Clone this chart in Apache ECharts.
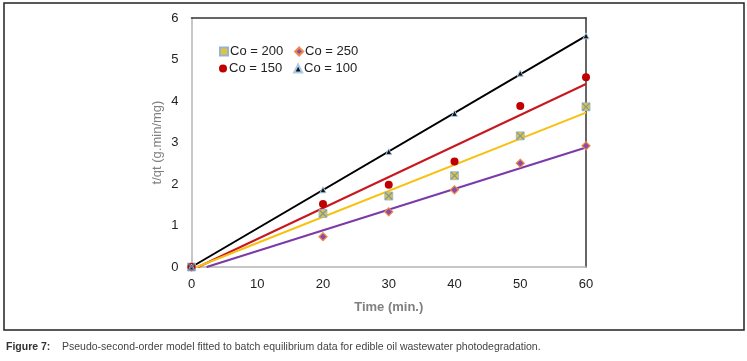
<!DOCTYPE html>
<html>
<head>
<meta charset="utf-8">
<script src="https://cdn.jsdelivr.net/npm/echarts@6/dist/echarts.min.js"></script>
<style>
  html, body { margin: 0; padding: 0; background: #fff; }
  #chart { width: 747px; height: 361px; }
</style>
</head>
<body>
<div id="chart"></div>
<script>
// time (min.) and t/qt values
const times = [0, 20, 30, 40, 50, 60];
const co100 = [0, 1.86, 2.78, 3.70, 4.67, 5.57];
const co150 = [0, 1.52, 1.98, 2.54, 3.88, 4.57];
const co200 = [0, 1.29, 1.71, 2.20, 3.16, 3.86];
const co250 = [0, 0.73, 1.33, 1.86, 2.50, 2.92];

// fitted trend lines: [start, end] as [time, t/qt]
const fit100 = [[0, 0], [60, 5.57]];
const fit150 = [[1.0, 0], [60, 4.41]];
const fit200 = [[0.8, 0], [60, 3.72]];
const fit250 = [[2.3, 0], [60, 2.88]];

const xTicks = [0, 10, 20, 30, 40, 50, 60];
const yTicks = [0, 1, 2, 3, 4, 5, 6];

const pairs = (ys) => times.map((t, i) => [t, ys[i]]);

const myChart = echarts.init(document.getElementById('chart'));
const font = 'Liberation Sans, Arial, sans-serif';
const labelStyle = { fontFamily: font, fontSize: 13, color: '#222' };

function trend(data, color) {
  return {
    type: 'line',
    data: data,
    showSymbol: false,
    symbol: 'none',
    silent: true,
    z: 2,
    lineStyle: { color: color, width: 2 }
  };
}

myChart.setOption({
  animation: false,
  textStyle: { fontFamily: font },
  grid: { left: 191.5, right: 161, top: 18, bottom: 94 },
  legend: [
    {
      data: ['Co = 200', 'Co = 250'],
      left: 214, top: 40,
      itemWidth: 8, itemHeight: 8, itemGap: 11,
      textStyle: { fontFamily: font, fontSize: 13, color: '#222', padding: [0, 0, 0, -3] }
    },
    {
      data: ['Co = 150', 'Co = 100'],
      left: 214, top: 57,
      itemWidth: 8, itemHeight: 8, itemGap: 11,
      textStyle: { fontFamily: font, fontSize: 13, color: '#222', padding: [0, 0, 0, -3] }
    }
  ],
  xAxis: [
    {
      type: 'value',
      min: xTicks[0], max: xTicks[xTicks.length - 1], interval: 10,
      name: 'Time (min.)',
      nameLocation: 'middle',
      nameGap: 34,
      nameMoveOverlap: false,
      nameTextStyle: { fontFamily: font, fontSize: 13, color: '#808080', fontWeight: 'bold' },
      axisLine: { onZero: false, lineStyle: { color: '#b4b4b4', width: 1.5 } },
      axisTick: { show: false },
      splitLine: { show: false },
      axisLabel: Object.assign({ margin: 11 }, labelStyle)
    },
    {
      type: 'value', position: 'top',
      min: 0, max: 60,
      axisLine: { show: true, onZero: false, lineStyle: { color: '#333', width: 1.5 } },
      axisTick: { show: false },
      axisLabel: { show: false },
      splitLine: { show: false }
    }
  ],
  yAxis: [
    {
      type: 'value',
      min: yTicks[0], max: yTicks[yTicks.length - 1], interval: 1,
      name: 't/qt (g.min/mg)',
      nameLocation: 'middle',
      nameGap: 28,
      nameMoveOverlap: false,
      nameTextStyle: { fontFamily: font, fontSize: 13, color: '#808080' },
      axisLine: { show: true, onZero: false, lineStyle: { color: '#b4b4b4', width: 1.5 } },
      axisTick: { show: false },
      splitLine: { show: false },
      axisLabel: Object.assign({ margin: 13 }, labelStyle)
    },
    {
      type: 'value', position: 'right',
      min: 0, max: 6,
      axisLine: { show: true, onZero: false, lineStyle: { color: '#333', width: 1.5 } },
      axisTick: { show: false },
      axisLabel: { show: false },
      splitLine: { show: false }
    }
  ],
  graphic: [
    {
      type: 'rect',
      shape: { x: 4, y: 3, width: 740, height: 327 },
      style: { fill: 'none', stroke: '#222', lineWidth: 1.5 },
      silent: true
    },
    {
      type: 'text', left: 6, top: 342,
      style: { text: 'Figure 7:', fill: '#333', fontWeight: 'bold', fontSize: 10.5,
        fontFamily: 'Liberation Sans Narrow, Arial Narrow, sans-serif' }
    },
    {
      type: 'text', left: 62, top: 342,
      style: { text: 'Pseudo-second-order model fitted to batch equilibrium data for edible oil wastewater photodegradation.',
        fill: '#444', fontSize: 10.5,
        fontFamily: 'Liberation Sans Narrow, Arial Narrow, sans-serif' }
    }
  ],
  series: [
    trend(fit100, '#000000'),
    trend(fit150, '#c8171e'),
    trend(fit200, '#f7c10f'),
    trend(fit250, '#7a3aa8'),
    {
      name: 'Co = 200', type: 'scatter', data: pairs(co200), z: 3,
      symbol: 'rect', symbolSize: 8,
      itemStyle: { color: '#e6c23a', borderColor: '#8fb6d8', borderWidth: 0.8, opacity: 1 }
    },
    {
      name: 'Co = 200 x', type: 'scatter', data: pairs(co200), z: 4, silent: true,
      symbol: 'path://M0,0 L2,2 M2,0 L0,2', symbolSize: 7,
      itemStyle: { color: 'none', borderColor: '#5a8fc0', borderWidth: 1.2 }
    },
    {
      name: 'Co = 250', type: 'scatter', data: pairs(co250), z: 3,
      symbol: 'diamond', symbolSize: 8,
      itemStyle: { color: '#8a4aa8', borderColor: '#ef8a48', borderWidth: 1.2, opacity: 1 }
    },
    {
      name: 'Co = 150', type: 'scatter', data: pairs(co150), z: 3,
      symbol: 'circle', symbolSize: 8,
      itemStyle: { color: '#c00000', opacity: 1 }
    },
    {
      name: 'Co = 100', type: 'scatter', data: pairs(co100), z: 3,
      symbol: 'triangle', symbolSize: 6,
      itemStyle: { color: '#111', borderColor: '#a9cbe8', borderWidth: 1, opacity: 1 }
    }
  ]
});
</script>
</body>
</html>
